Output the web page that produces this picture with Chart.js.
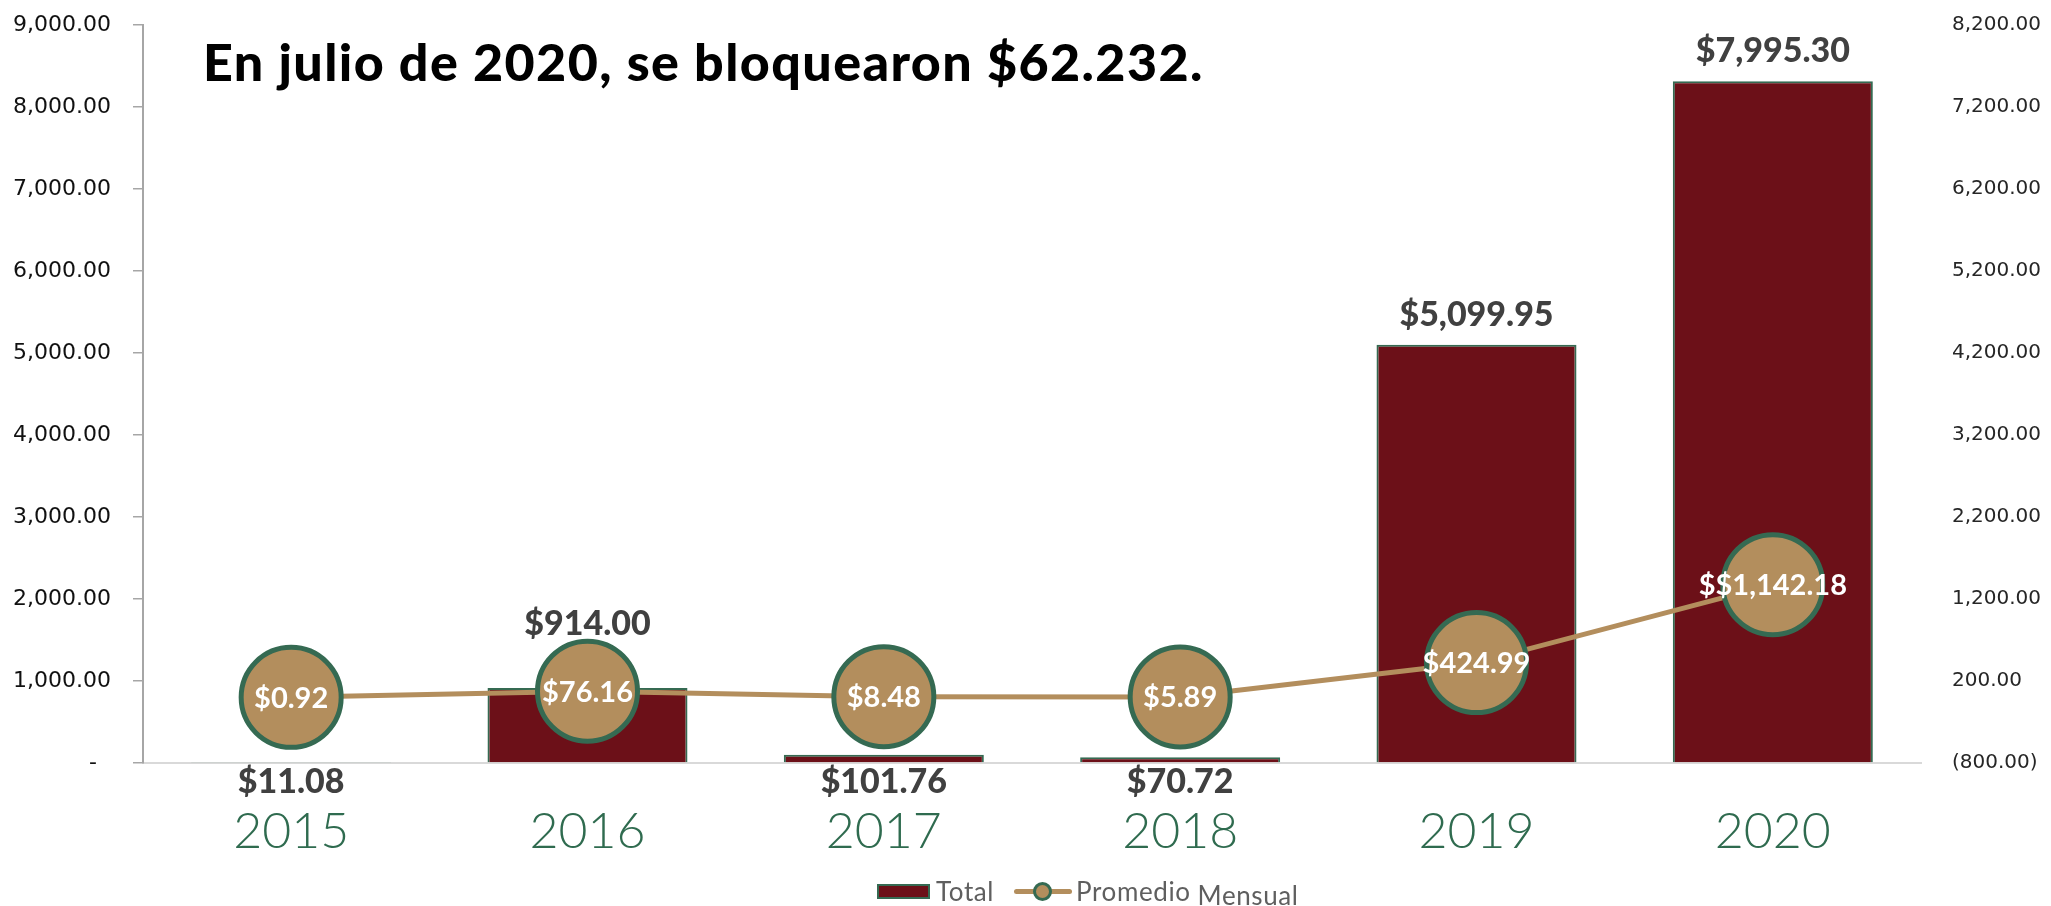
<!DOCTYPE html>
<html>
<head>
<meta charset="utf-8">
<script src="https://cdn.jsdelivr.net/npm/chart.js@4.4.0/dist/chart.umd.min.js"></script>
<style>
    body { margin: 0; background: #ffffff; }
    #wrap { position: relative; width: 2051px; height: 906px; overflow: hidden; }
    #title {
        position: absolute; left: 203px; top: 31px;
        font-family: Lato, sans-serif; font-weight: 900; font-size: 52px; line-height: 60px;
        letter-spacing: 1.4px; color: #000000; white-space: nowrap;
    }
    #legend {
        position: absolute; left: 877px; top: 877px; height: 28px;
        font-family: Lato, sans-serif; font-size: 26px; letter-spacing: 0.6px; color: #5f5f5f;
        display: flex; align-items: center; white-space: nowrap;
    }
    .swatch-bar { width: 49px; height: 11px; background: #6c1018; border: 2px solid #356a52; margin-right: 6px; }
    .swatch-line { position: relative; width: 58px; height: 20px; margin: 0 4px 0 20px; }
    .swatch-line .ln { position: absolute; left: 0; right: 0; top: 8px; height: 5px; border-radius: 3px; background: #b38e5d; }
    .swatch-line .dot { position: absolute; left: 19px; top: 1px; width: 13px; height: 13px; border-radius: 50%; background: #b38e5d; border: 3px solid #356a52; }
</style>
</head>
<body>
<div id="wrap">
    <canvas id="chart" width="2051" height="906"></canvas>
    <div id="title">En julio de 2020, se bloquearon $62.232.</div>
    <div id="legend">
        <span class="swatch-bar"></span><span>Total</span>
        <span class="swatch-line"><span class="ln"></span><span class="dot"></span></span><span>Promedio</span><span style="margin-left:7px; position:relative; top:4px;">Mensual</span>
    </div>
</div>
<script>
const years = ['2015', '2016', '2017', '2018', '2019', '2020'];
const totalValues = [11.08, 914.00, 101.76, 70.72, 5099.95, 8315];
const totalLabels = ['$11.08', '$914.00', '$101.76', '$70.72', '$5,099.95', '$7,995.30'];
const monthlyValues = [0.92, 76.16, 8.48, 5.89, 424.99, 1375];
const monthlyLabels = ['$0.92', '$76.16', '$8.48', '$5.89', '$424.99', '$$1,142.18'];

const pointRadius = 50;

function money(v) {
    return Math.abs(v).toLocaleString('en-US', { minimumFractionDigits: 2, maximumFractionDigits: 2 });
}

// labels on bars and on the circles
const valueLabels = {
    id: 'valueLabels',
    afterDatasetsDraw(chart) {
        const ctx = chart.ctx;
        const bars = chart.getDatasetMeta(0).data;
        const points = chart.getDatasetMeta(1).data;
        ctx.save();
        ctx.textAlign = 'center';
        ctx.textBaseline = 'middle';
        ctx.font = '900 34px Lato';
        ctx.fillStyle = '#404040';
        bars.forEach((bar, i) => {
            let y;
            if (totalValues[i] < 200) {
                y = chart.chartArea.bottom + 19;
            } else {
                y = Math.min(bar.y - 30, points[i].y - pointRadius - 17);
            }
            ctx.fillText(totalLabels[i], bar.x, y);
        });
        ctx.font = 'bold 29px Lato';
        ctx.fillStyle = '#ffffff';
        points.forEach((pt, i) => {
            ctx.fillText(monthlyLabels[i], pt.x, pt.y + 1);
        });
        ctx.restore();
    }
};

// fixed axis widths, and no extra room above the top tick
function fixAxis(scale, width) {
    scale.width = width;
    scale.paddingTop = 0;
    scale.paddingBottom = 0;
}

const ctx = document.getElementById('chart').getContext('2d');
const chart = new Chart(ctx, {
    data: {
        labels: years,
        datasets: [
            {
                type: 'bar',
                label: 'Total',
                data: totalValues,
                yAxisID: 'y',
                backgroundColor: '#6c1018',
                borderColor: '#356a52',
                borderWidth: 2,
                barPercentage: 0.675,
                categoryPercentage: 1,
                order: 1
            },
            {
                type: 'line',
                label: 'Promedio Mensual',
                data: monthlyValues,
                yAxisID: 'y1',
                borderColor: '#b38e5d',
                borderWidth: 5,
                tension: 0,
                pointRadius: pointRadius,
                pointBackgroundColor: '#b38e5d',
                pointBorderColor: '#356a52',
                pointBorderWidth: 5,
                clip: false,
                order: 0
            }
        ]
    },
    options: {
        responsive: false,
        animation: false,
        devicePixelRatio: 1,
        layout: { autoPadding: false, padding: { top: 25, left: 0, right: 0, bottom: 0 } },
        scales: {
            x: {
                grid: { display: false, drawTicks: false },
                border: { display: true, color: '#d9d9d9', width: 2 },
                ticks: {
                    color: '#2f6b4f',
                    font: { family: 'Lato', weight: '300', size: 50 },
                    padding: 39
                },
                afterFit(scale) { scale.height = 143; }
            },
            y: {
                position: 'left',
                min: 0,
                max: 9000,
                grid: { drawOnChartArea: false, drawTicks: true, tickLength: 10, color: '#a6a6a6', lineWidth: 1.5 },
                border: { display: true, color: '#a6a6a6', width: 2 },
                ticks: {
                    stepSize: 1000,
                    color: '#111111',
                    font: { family: 'DejaVu Sans', size: 22 },
                    padding: 22,
                    callback: (v) => v === 0 ? '-  ' : money(v)
                },
                afterFit(scale) { fixAxis(scale, 143); }
            },
            y1: {
                position: 'right',
                min: -800,
                max: 8200,
                grid: { display: false, drawTicks: false },
                border: { display: false },
                ticks: {
                    stepSize: 1000,
                    color: '#262626',
                    font: { family: 'DejaVu Sans', size: 20 },
                    padding: 31,
                    callback: (v) => v < 0 ? '(' + money(v) + ')' : money(v)
                },
                afterFit(scale) { fixAxis(scale, 130); }
            }
        },
        plugins: {
            legend: { display: false },
            tooltip: { enabled: false }
        }
    },
    plugins: [valueLabels]
});
</script>
</body>
</html>
